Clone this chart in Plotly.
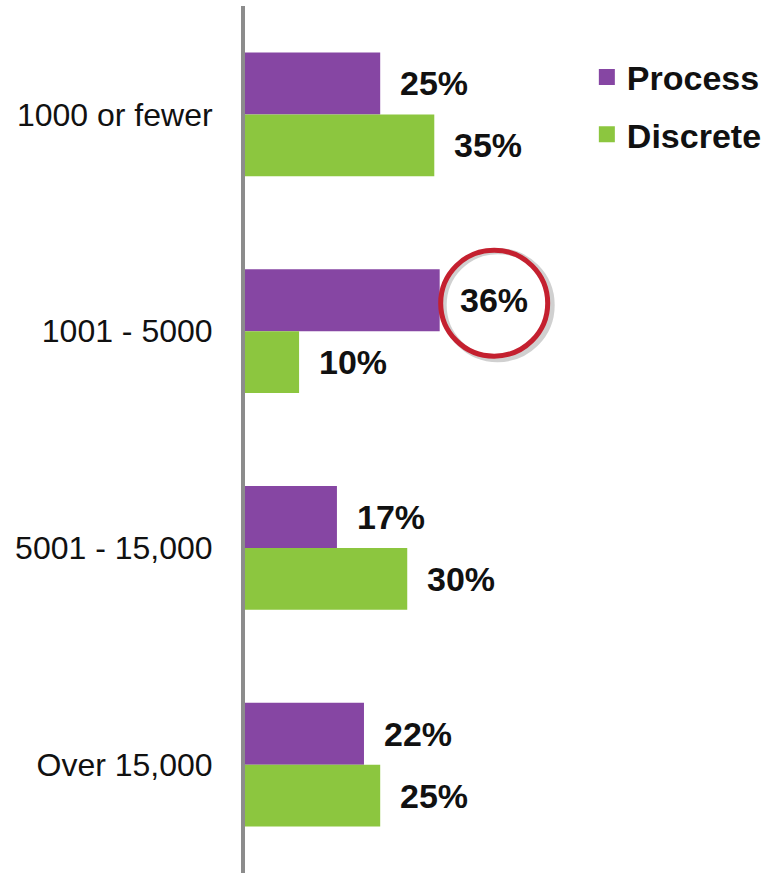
import plotly.graph_objects as go

categories = ["1000 or fewer", "1001 - 5000", "5001 - 15,000", "Over 15,000"]
process = [25, 36, 17, 22]
discrete = [35, 10, 30, 25]
series_names = ["Process", "Discrete"]
colors = ["#8646A3", "#8CC63F"]
highlight_category = "1001 - 5000"
highlight_value = 36

FONT = "Liberation Sans, Arial, sans-serif"

fig = go.Figure()
for name, vals, col in zip(series_names, [process, discrete], colors):
    fig.add_trace(go.Bar(
        y=categories, x=vals, orientation="h", name=name,
        marker=dict(color=col, line=dict(width=0)),
        showlegend=False, hoverinfo="skip",
    ))
    # legend entry with larger square marker
    fig.add_trace(go.Scatter(
        x=[None], y=[None], mode="markers", name=f"<b>{name}</b>",
        marker=dict(symbol="square", size=19, color=col),
        legendgroup=name, showlegend=True,
    ))

# value labels
for vals, shift in [(process, 31), (discrete, -31)]:
    for cat, v in zip(categories, vals):
        fig.add_annotation(
            x=v, y=cat, text=f"<b>{v}%</b>", showarrow=False,
            xanchor="left", yanchor="middle", xshift=18, yshift=shift,
            font=dict(family=FONT, size=34, color="#111111"),
        )

# highlight circle (shadow + red ring) around the highlighted label
fig.add_shape(type="circle", xref="x", yref="y",
              xsizemode="pixel", ysizemode="pixel",
              xanchor=highlight_value, yanchor=highlight_category,
              x0=4, x1=112, y0=-28, y1=80,
              line=dict(color="rgba(150,150,150,0.45)", width=6), layer="below")
fig.add_shape(type="circle", xref="x", yref="y",
              xsizemode="pixel", ysizemode="pixel",
              xanchor=highlight_value, yanchor=highlight_category,
              x0=1, x1=108, y0=-25, y1=81,
              line=dict(color="#C4202F", width=5), layer="above")

fig.update_layout(
    width=775, height=877,
    margin=dict(l=245, r=0, t=6, b=4),
    paper_bgcolor="white", plot_bgcolor="white",
    barmode="group", bargap=0.43, bargroupgap=0,
    font=dict(family=FONT, color="#111111"),
    xaxis=dict(range=[0, 98], visible=False, showgrid=False, zeroline=False, fixedrange=True),
    yaxis=dict(autorange="reversed", showgrid=False, zeroline=False,
               showline=True, linecolor="#8C8C8C", linewidth=4,
               ticks="", ticklabelstandoff=22,
               tickfont=dict(family=FONT, size=32, color="#111111")),
    legend=dict(x=0.645, y=0.951, xanchor="left", yanchor="top",
                font=dict(family=FONT, size=34, color="#111111"),
                bgcolor="rgba(0,0,0,0)", tracegroupgap=10,
                itemsizing="trace"),
)

fig.write_html("out.html")
